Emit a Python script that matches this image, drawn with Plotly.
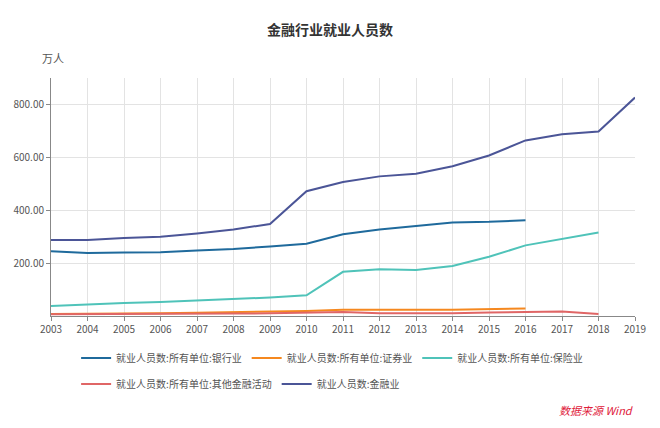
import plotly.graph_objects as go

years = list(range(2003, 2020))

# 万人
bank = [245, 238, 240, 241, 248, 253, 263, 273, 309, 327, 340, 354, 356, 362]
securities = [8, 8, 9, 10, 12, 14, 16, 19, 24, 25, 24, 24, 25, 28]
insurance = [38, 44, 49, 53, 58, 64, 70, 78, 167, 177, 174, 189, 224, 267, 291, 316]
other_fin = [7, 7, 7, 8, 8, 9, 10, 12, 15, 10, 10, 10, 13, 15, 17, 8]
finance = [287, 287, 295, 300, 312, 327, 348, 472, 507, 528, 538, 566, 607, 664, 687, 698, 826]

names = ["就业人员数:所有单位:银行业", "就业人员数:所有单位:证券业", "就业人员数:所有单位:保险业",
         "就业人员数:所有单位:其他金融活动", "就业人员数:金融业"]
colors = ["#1f6a9c", "#f5881f", "#4fc3b9", "#e06666", "#4b5597"]
series = [bank, securities, insurance, other_fin, finance]
legend_rows = ["legend", "legend", "legend", "legend2", "legend2"]

font = "Noto Sans CJK SC, sans-serif"

fig = go.Figure()
for name, vals, c, lg in zip(names, series, colors, legend_rows):
    fig.add_trace(go.Scatter(x=years[:len(vals)], y=vals, name=name, mode="lines",
                             line=dict(color=c, width=2), legend=lg))

leg = dict(orientation="h", xanchor="left", yanchor="middle",
           font=dict(size=10, color="#555"), itemwidth=30, bgcolor="rgba(0,0,0,0)")

fig.update_layout(
    width=644, height=412,
    paper_bgcolor="white", plot_bgcolor="white",
    margin=dict(l=43, r=17, t=70, b=104),
    font=dict(family=font, size=11, color="#555"),
    title=dict(text="<b>金融行业就业人员数</b>", x=0.5, xanchor="center", y=0.947, yanchor="middle",
               font=dict(size=14, color="#333")),
    showlegend=True,
    legend=dict(leg, x=0.043, y=-0.176),
    legend2=dict(leg, x=0.043, y=-0.286),
)
fig.update_xaxes(range=[2003, 2019], tickmode="linear", dtick=1, showgrid=True,
                 gridcolor="#e3e3e3", showline=True, linecolor="#888", linewidth=1,
                 ticks="outside", ticklen=4, tickcolor="#888", zeroline=False,
                 tickfont=dict(size=10, color="#555"), automargin=False)
fig.update_yaxes(range=[0, 900], tickvals=[200, 400, 600, 800], tickformat=".2f",
                 showgrid=True, gridcolor="#e3e3e3", showline=True, linecolor="#888",
                 ticks="outside", ticklen=4, tickcolor="#888", zeroline=False,
                 tickfont=dict(size=10, color="#555"), automargin=False)

fig.add_annotation(text="万人", xref="paper", yref="paper", x=-0.018, y=1.084, xanchor="left",
                   yanchor="middle", showarrow=False, font=dict(size=11, color="#555"))
fig.add_annotation(text="<i>数据来源 Wind</i>", xref="paper", yref="paper", x=1.0, y=-0.395,
                   xanchor="right", yanchor="middle", showarrow=False,
                   font=dict(size=11, color="#e0203a"))

fig.write_html("out.html")
